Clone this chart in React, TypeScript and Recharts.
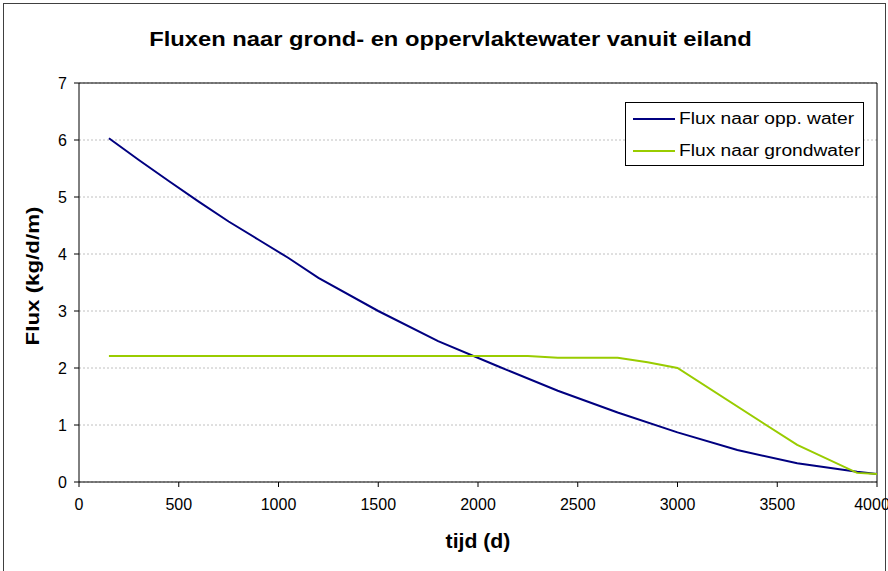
import React from 'react'
import { LineChart, Line, XAxis, YAxis, CartesianGrid, ReferenceLine } from 'recharts'

// oppervlaktewater flux (blue line)
const oppTime = [150, 300, 450, 600, 750, 900, 1050, 1200, 1500, 1800, 2100, 2400, 2700, 3000, 3300, 3600, 3900, 4000]
const oppFlux = [6.03, 5.65, 5.28, 4.92, 4.57, 4.25, 3.93, 3.58, 3.0, 2.47, 2.03, 1.6, 1.22, 0.87, 0.56, 0.33, 0.18, 0.14]

// grondwater flux (green line)
const grondTime = [150, 2250, 2400, 2700, 2850, 3000, 3600, 3900, 4000]
const grondFlux = [2.21, 2.21, 2.18, 2.18, 2.1, 2.0, 0.65, 0.16, 0.14]

const xTicks = [0, 500, 1000, 1500, 2000, 2500, 3000, 3500, 4000]
const yTicks = [0, 1, 2, 3, 4, 5, 6, 7]

const seriesNames = ['Flux naar opp. water', 'Flux naar grondwater']
const seriesColors = ['#000080', '#99cc00']

const oppData = oppTime.map((t, i) => ({ t, flux: oppFlux[i] }))
const grondData = grondTime.map((t, i) => ({ t, flux: grondFlux[i] }))

const FONT = '"Liberation Sans", Arial, sans-serif'

// legend drawn as a plain box over the plot, like the Excel original
const LegendBox = () => (
  <div
    style={{
      position: 'absolute',
      left: 625,
      top: 102,
      width: 239,
      height: 64,
      border: '1px solid #000',
      boxSizing: 'border-box',
      background: '#fff',
    }}
  >
    {seriesNames.map((name, i) => (
      <div key={name}>
        <div
          style={{
            position: 'absolute',
            left: 7,
            top: 15 + i * 31.7,
            width: 42,
            height: 2,
            background: seriesColors[i],
          }}
        />
        <div
          style={{
            position: 'absolute',
            left: 53,
            top: 7.8 + i * 31.7,
            fontSize: 16,
            lineHeight: '16px',
            whiteSpace: 'nowrap',
            transform: 'scaleX(1.2)',
            transformOrigin: 'left center',
            color: '#000',
          }}
        >
          {name}
        </div>
      </div>
    ))}
  </div>
)

export default function App() {
  return (
    <div style={{ position: 'absolute', left: 0, top: 0, width: 888, height: 571, overflow: 'hidden', background: '#fff', fontFamily: FONT }}>
      <div
        style={{
          position: 'absolute',
          left: 3,
          top: 3,
          width: 883,
          height: 620,
          border: '1px solid #404040',
          boxSizing: 'border-box',
        }}
      />
      <div
        style={{
          position: 'absolute',
          left: 0,
          top: 28,
          width: 901,
          textAlign: 'center',
          fontWeight: 'bold',
          fontSize: 21,
          lineHeight: '21px',
          whiteSpace: 'nowrap',
          transform: 'scaleX(1.13)',
          transformOrigin: '450.5px center',
          color: '#000',
        }}
      >
        Fluxen naar grond- en oppervlaktewater vanuit eiland
      </div>
      <LineChart
        width={888}
        height={571}
        margin={{ top: 83, right: 11, left: 0, bottom: 0 }}
        style={{ position: 'absolute', left: 0, top: 0 }}
      >
        <CartesianGrid vertical={false} stroke="#c0c0c0" strokeDasharray="2 2" />
        <XAxis
          dataKey="t"
          type="number"
          domain={[0, 4000]}
          ticks={xTicks}
          allowDuplicatedCategory={false}
          height={89}
          tickSize={5}
          tickMargin={12}
          stroke="#000"
          tick={{ fill: '#000', fontSize: 16, fontFamily: FONT }}
        />
        <YAxis
          type="number"
          domain={[0, 7]}
          ticks={yTicks}
          width={79}
          tickSize={5}
          tickMargin={7}
          stroke="#000"
          tick={{ fill: '#000', fontSize: 16, fontFamily: FONT }}
        />
        <ReferenceLine y={7} stroke="#000" />
        <ReferenceLine x={4000} stroke="#000" />
        <Line
          data={oppData}
          dataKey="flux"
          name={seriesNames[0]}
          stroke={seriesColors[0]}
          strokeWidth={2}
          dot={false}
          type="linear"
          isAnimationActive={false}
        />
        <Line
          data={grondData}
          dataKey="flux"
          name={seriesNames[1]}
          stroke={seriesColors[1]}
          strokeWidth={2}
          dot={false}
          type="linear"
          isAnimationActive={false}
        />
      </LineChart>
      <div
        style={{
          position: 'absolute',
          left: 377.5,
          top: 531,
          width: 200,
          textAlign: 'center',
          fontWeight: 'bold',
          fontSize: 20,
          lineHeight: '20px',
          transform: 'scaleX(1.06)',
          color: '#000',
        }}
      >
        tijd (d)
      </div>
      <div
        style={{
          position: 'absolute',
          left: 32.8 - 100,
          top: 275.5 - 9,
          width: 200,
          height: 18,
          textAlign: 'center',
          fontWeight: 'bold',
          fontSize: 18,
          lineHeight: '18px',
          whiteSpace: 'nowrap',
          transform: 'rotate(-90deg) scaleX(1.24)',
          color: '#000',
        }}
      >
        Flux (kg/d/m)
      </div>
      <LegendBox />
    </div>
  )
}
